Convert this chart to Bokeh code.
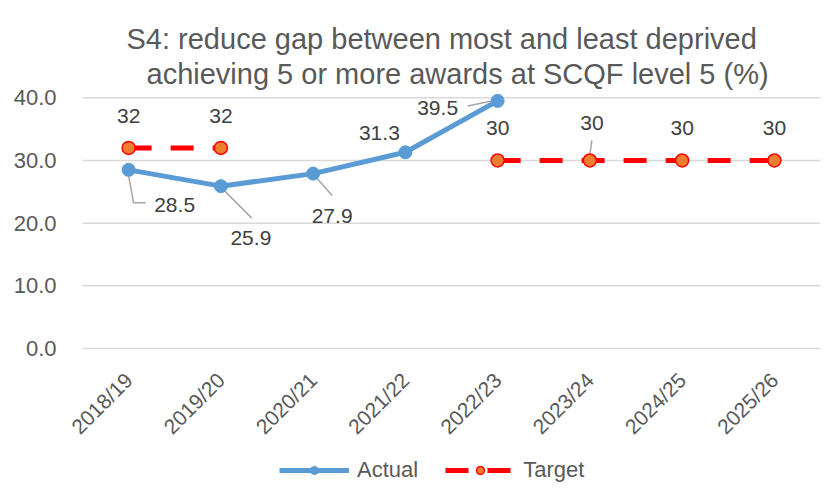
import math
from bokeh.plotting import figure
from bokeh.models import (Range1d, FixedTicker, PrintfTickFormatter, Legend, LegendItem,
                          ColumnDataSource, Title)
from bokeh.embed import file_html
from bokeh.resources import INLINE
from bokeh.core.properties import value

NAN = float("nan")

# ---------------- data ----------------
years = ["2018/19", "2019/20", "2020/21", "2021/22", "2022/23", "2023/24", "2024/25", "2025/26"]
actual = [28.5, 25.9, 27.9, 31.3, 39.5, NAN, NAN, NAN]
target = [32, 32, NAN, NAN, 30, 30, 30, 30]
y_ticks = [0, 10, 20, 30, 40]
title_lines = ["S4: reduce gap between most and least deprived",
               "achieving 5 or more awards at SCQF level 5 (%)"]

# ---------------- styles / layout (pixels, y downwards for offsets) ----------------
PLOT_W = 738          # width of the category band
LEFT_PAD = 20         # extra room left of the first category band (for tick labels)
VALUE_H = 257         # height of the 0..41 value band
BELOW_H = 145         # room under the value axis for tick labels and legend
BL, BR, BT = 62, 13, 91
Y_MAX = 41
FONT = "Liberation Sans"
ACTUAL_C = "#5B9BD5"
TARGET_C = "#FF0000"
TARGET_FILL = "#ED7D31"
GRID_C = "#D9D9D9"
TXT_C = "#595959"
LBL_C = "#404040"
LEADER_C = "#A6A6A6"
TITLE_OFFSETS = (64, 84)
TITLE_STANDOFFS = (0, 3)
LEGEND_LOC = (217, 10)

actual_lbl_off = [(46, 35), (30, 52), (19, 42), (-26, -19), (-60, 7)]
target_lbl_off = {0: (0, -32), 1: (0, -32), 4: (0, -32), 5: (2, -37), 6: (0, -32), 7: (0, -32)}
actual_leaders = {0: [(0, 6), (5, 33), (17, 33)], 1: [(4, 5), (31, 32)],
                  2: [(4, 5), (19, 22)], 4: [(-30, 5), (-6, 0)]}
target_leaders = {5: [(2, -20), (0, -6)]}

xs = list(range(len(years)))
px_x = PLOT_W / len(years)
px_y = VALUE_H / Y_MAX
x_lo, x_hi = -0.5, len(years) - 0.5
x_start = x_lo - LEFT_PAD / px_x
y_min = -BELOW_H / px_y

p = figure(frame_width=PLOT_W + LEFT_PAD, frame_height=VALUE_H + BELOW_H, output_backend="svg",
           toolbar_location=None,
           x_range=Range1d(x_start, x_hi), y_range=Range1d(y_min, Y_MAX),
           min_border_left=BL, min_border_right=BR, min_border_top=BT, min_border_bottom=0)
p.outline_line_color = None
p.background_fill_color = "white"
p.border_fill_color = "white"

# axes
p.xaxis.fixed_location = 0
p.xaxis.ticker = FixedTicker(ticks=xs)
p.xaxis.major_label_overrides = {i: y for i, y in enumerate(years)}
p.xaxis.major_label_orientation = math.pi / 4
p.xaxis.major_label_text_font = FONT
p.xaxis.major_label_text_font_size = "21px"
p.xaxis.major_label_text_color = TXT_C
p.xaxis.axis_line_color = None
p.xaxis.major_tick_line_color = None
p.xaxis.minor_tick_line_color = None
p.xaxis.major_label_standoff = 22

p.yaxis.ticker = FixedTicker(ticks=y_ticks)
p.yaxis.formatter = PrintfTickFormatter(format="%.1f")
p.yaxis.major_label_text_font = FONT
p.yaxis.major_label_text_font_size = "22px"
p.yaxis.major_label_text_color = TXT_C
p.yaxis.axis_line_color = None
p.yaxis.major_tick_line_color = None
p.yaxis.minor_tick_line_color = None
p.yaxis.major_label_standoff = 0

# horizontal gridlines across the category band only
p.xgrid.grid_line_color = None
p.ygrid.grid_line_color = None
p.segment(x0=[x_lo] * len(y_ticks), x1=[x_hi] * len(y_ticks), y0=y_ticks, y1=y_ticks,
          line_color=GRID_C, line_width=1.5)

# series
src = ColumnDataSource(dict(x=xs, actual=actual, target=target))
al = p.line("x", "actual", source=src, line_color=ACTUAL_C, line_width=5)
tl = p.line("x", "target", source=src, line_color=TARGET_C, line_width=5, line_dash="23 19")

# leader lines
lx, ly = [], []
for i, pts in actual_leaders.items():
    lx.append([xs[i] + dx / px_x for dx, dy in pts])
    ly.append([actual[i] - dy / px_y for dx, dy in pts])
for i, pts in target_leaders.items():
    lx.append([xs[i] + dx / px_x for dx, dy in pts])
    ly.append([target[i] - dy / px_y for dx, dy in pts])
p.multi_line(lx, ly, line_color=LEADER_C, line_width=1.5)

asc = p.scatter("x", "actual", source=src, size=13, fill_color=ACTUAL_C, line_color=ACTUAL_C)
tsc = p.scatter("x", "target", source=src, size=13, fill_color=TARGET_FILL, line_color=TARGET_C,
                line_width=1.5)

# data labels
a_idx = [i for i, v in enumerate(actual) if not math.isnan(v)]
a_src = ColumnDataSource(dict(
    x=[xs[i] for i in a_idx], y=[actual[i] for i in a_idx],
    t=["%.1f" % actual[i] for i in a_idx],
    dx=[actual_lbl_off[k][0] for k in range(len(a_idx))],
    dy=[actual_lbl_off[k][1] for k in range(len(a_idx))]))
p.text("x", "y", text="t", source=a_src, x_offset="dx", y_offset="dy",
       text_align="center", text_baseline="middle", text_font=value(FONT),
       text_font_size="21px", text_color=LBL_C)

t_idx = [i for i, v in enumerate(target) if not math.isnan(v)]
t_src = ColumnDataSource(dict(
    x=[xs[i] for i in t_idx], y=[target[i] for i in t_idx],
    t=["%d" % target[i] for i in t_idx],
    dx=[target_lbl_off[i][0] for i in t_idx],
    dy=[target_lbl_off[i][1] for i in t_idx]))
p.text("x", "y", text="t", source=t_src, x_offset="dx", y_offset="dy",
       text_align="center", text_baseline="middle", text_font=value(FONT),
       text_font_size="21px", text_color=LBL_C)

# titles (second line added first: sits closest to the plot)
for k in (1, 0):
    p.add_layout(Title(text=title_lines[k], align="left", text_font=FONT, text_font_size="29px",
                       text_color=TXT_C, text_font_style="normal",
                       standoff=TITLE_STANDOFFS[k], offset=TITLE_OFFSETS[k]),
                 "above")

# legend, under the tick labels
legend = Legend(items=[LegendItem(label="Actual", renderers=[al, asc]),
                       LegendItem(label="Target", renderers=[tl, tsc])],
                orientation="horizontal", location=LEGEND_LOC,
                label_text_font=FONT, label_text_font_size="22px", label_text_color=TXT_C,
                glyph_width=70, glyph_height=20, spacing=27, label_standoff=8,
                border_line_color=None, background_fill_alpha=0, padding=4, margin=0)
p.add_layout(legend)

open("out.html", "w").write(file_html(p, INLINE))
